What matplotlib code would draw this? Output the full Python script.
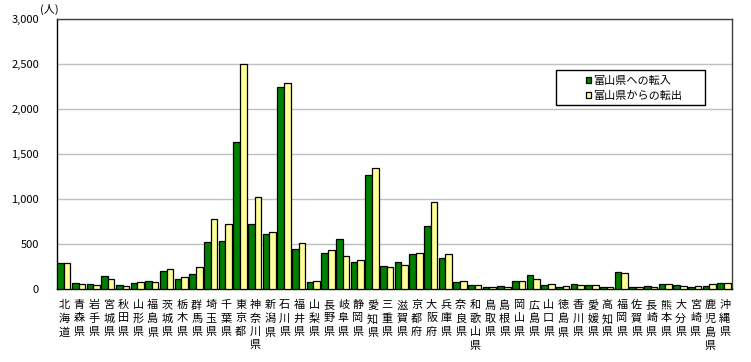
import numpy as np
import matplotlib.pyplot as plt
from matplotlib.patches import Rectangle
from matplotlib.ticker import FuncFormatter

plt.rcParams['font.family'] = ['Noto Sans CJK JP', 'DejaVu Sans']

# 都道府県(富山県を除く)
prefs = ['北海道', '青森県', '岩手県', '宮城県', '秋田県', '山形県', '福島県',
         '茨城県', '栃木県', '群馬県', '埼玉県', '千葉県', '東京都', '神奈川県',
         '新潟県', '石川県', '福井県', '山梨県', '長野県', '岐阜県', '静岡県',
         '愛知県', '三重県', '滋賀県', '京都府', '大阪府', '兵庫県', '奈良県',
         '和歌山県', '鳥取県', '島根県', '岡山県', '広島県', '山口県', '徳島県',
         '香川県', '愛媛県', '高知県', '福岡県', '佐賀県', '長崎県', '熊本県',
         '大分県', '宮崎県', '鹿児島県', '沖縄県']
# 富山県への転入
tennyu = [289, 67, 56, 144, 44, 67, 89,
          200, 111, 167, 522, 533, 1633, 722,
          611, 2245, 444, 78, 400, 556, 300,
          1267, 256, 300, 389, 700, 344, 78,
          44, 22, 33, 89, 156, 44, 22,
          56, 44, 22, 189, 22, 33, 56,
          44, 22, 33, 67]
# 富山県からの転出
tenshutsu = [289, 56, 44, 111, 33, 78, 78,
             222, 133, 244, 778, 722, 2500, 1022,
             633, 2289, 507, 89, 433, 367, 322,
             1344, 244, 267, 400, 967, 389, 89,
             44, 22, 22, 89, 111, 56, 33,
             44, 44, 22, 178, 22, 22, 56,
             33, 33, 56, 67]

x = np.arange(len(prefs))
green = '#008000'
yellow = '#ffff99'

fig = plt.figure(figsize=(7.51, 3.62), dpi=100)
ax = fig.add_axes([57 / 751, 1 - 289 / 362, 675 / 751, 270 / 362])

ax.bar(x - 0.5, tennyu, width=0.45, align='edge', color=green,
       edgecolor='black', linewidth=0.9, label='富山県への転入', zorder=3)
ax.bar(x - 0.05, tenshutsu, width=0.45, align='edge', color=yellow,
       edgecolor='black', linewidth=0.9, label='富山県からの転出', zorder=3)

ax.set_xlim(-0.52, len(prefs) - 0.5)
ax.set_ylim(0, 3000)
ax.set_yticks(np.arange(0, 3001, 500))
ax.yaxis.set_major_formatter(FuncFormatter(lambda v, p: f'{int(v):,}'))
ax.yaxis.grid(True, color='#c0c0c0', linewidth=1, zorder=0)

ax.set_xticks(x)
ax.set_xticklabels(['\n'.join(p) for p in prefs], fontsize=8, linespacing=1.4,
                   va='top')
ax.tick_params(axis='x', length=0, pad=8)
ax.tick_params(axis='y', length=0, pad=13, labelsize=8)

ax.spines['left'].set_color('black')
ax.spines['bottom'].set_color('black')
ax.spines['top'].set_color('#404040')
ax.spines['right'].set_color('#404040')
for s in ax.spines.values():
    s.set_linewidth(1)

fig.text(40 / 751, 1 - 9 / 362, '(人)', fontsize=8, va='center', ha='left')

# 凡例
fig.patches.append(Rectangle((556 / 751, 1 - 105 / 362), 149 / 751, 35 / 362,
                             transform=fig.transFigure, fill=False,
                             edgecolor='black', linewidth=1))
leg = fig.legend(loc='upper left', bbox_to_anchor=(578 / 751, 1 - 68 / 362),
                 frameon=False, fontsize=8, handlelength=0.5, handleheight=0.5,
                 handletextpad=0.2, labelspacing=0.45, borderpad=0.2)

fig.savefig('out.png', dpi=100)
